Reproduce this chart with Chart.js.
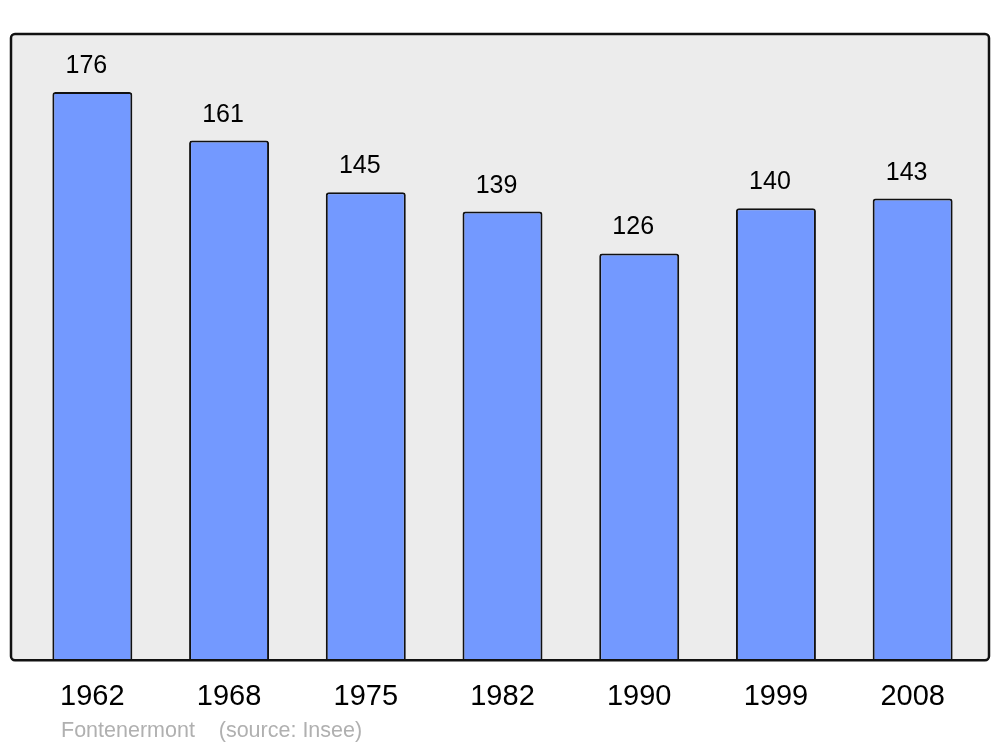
<!DOCTYPE html>
<html>
<head>
<meta charset="utf-8">
<script src="https://cdn.jsdelivr.net/npm/chart.js@4"></script>
<style>
  html, body { margin: 0; padding: 0; background: #fff; }
  #wrap { width: 1000px; height: 747px; position: relative; }
</style>
</head>
<body>
<div id="wrap"><canvas id="chart"></canvas></div>
<script>
const years = ["1962", "1968", "1975", "1982", "1990", "1999", "2008"];
const population = [176, 161, 145, 139, 126, 140, 143];
const footerText = "Fontenermont    (source: Insee)";

// grey rounded panel behind the bars
const panelPlugin = {
  id: "panel",
  beforeDraw(chart) {
    const { ctx, chartArea } = chart;
    const x0 = chartArea.left - 13, x1 = chartArea.right + 8;
    const y0 = chartArea.top, y1 = chartArea.bottom;
    ctx.save();
    ctx.beginPath();
    ctx.roundRect(x0, y0, x1 - x0, y1 - y0, 4);
    ctx.fillStyle = "#ececec";
    ctx.fill();
    ctx.restore();
  },
  afterDatasetsDraw(chart) {
    const { ctx, chartArea } = chart;
    const x0 = chartArea.left - 13, x1 = chartArea.right + 8;
    const y0 = chartArea.top, y1 = chartArea.bottom;
    ctx.save();
    ctx.beginPath();
    ctx.roundRect(x0, y0, x1 - x0, y1 - y0, 4);
    ctx.lineWidth = 2.5;
    ctx.strokeStyle = "#111";
    ctx.stroke();

    // value labels over each bar
    ctx.font = "25px 'Liberation Sans', Arial, sans-serif";
    ctx.fillStyle = "#000";
    ctx.textAlign = "center";
    ctx.textBaseline = "alphabetic";
    chart.getDatasetMeta(0).data.forEach((bar, i) => {
      ctx.fillText(String(population[i]), bar.x - 6, bar.y - 19);
    });

    // footer
    ctx.font = "21.5px 'Liberation Sans', Arial, sans-serif";
    ctx.fillStyle = "#b0b0b0";
    ctx.textAlign = "left";
    ctx.fillText(footerText, chartArea.left + 37, 737);
    ctx.restore();
  }
};

new Chart(document.getElementById("chart"), {
  type: "bar",
  data: {
    labels: years,
    datasets: [{
      data: population,
      backgroundColor: "#7399ff",
      borderColor: "#111",
      borderWidth: 2,
      borderSkipped: "start",
      borderRadius: { topLeft: 3, topRight: 3 },
      categoryPercentage: 1,
      barPercentage: 0.585
    }]
  },
  options: {
    responsive: true,
    maintainAspectRatio: false,
    animation: false,
    layout: { padding: { left: 24, right: 19, top: 34, bottom: 22 } },
    plugins: { legend: { display: false }, tooltip: { enabled: false } },
    scales: {
      x: {
        grid: { display: false },
        border: { display: false },
        ticks: {
          color: "#000",
          padding: 11,
          font: { family: "'Liberation Sans', Arial, sans-serif", size: 29 }
        }
      },
      y: {
        display: false,
        min: 0,
        max: 194
      }
    }
  },
  plugins: [panelPlugin]
});
</script>
</body>
</html>
